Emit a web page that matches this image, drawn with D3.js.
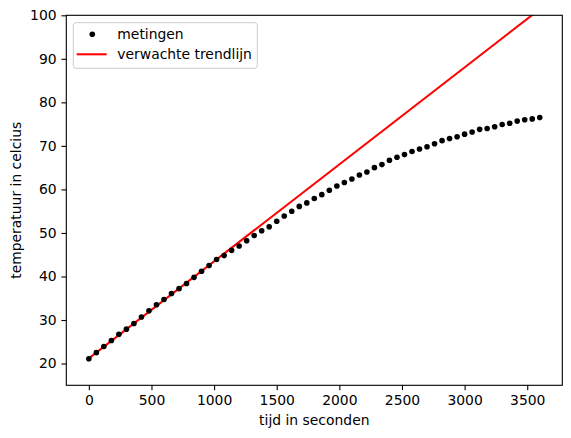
<!DOCTYPE html>
<html>
<head>
<meta charset="utf-8">
<script src="https://cdn.jsdelivr.net/npm/d3@7"></script>
<style>
    body { margin: 0; background: #fff; }
    svg { display: block; font-family: "DejaVu Sans", sans-serif; }
</style>
</head>
<body>
<div id="grafiek"></div>
<script>
// Meetgegevens (tijd in s, temperatuur in graden C)
var tijden = [0, 60, 120, 180, 240, 300, 360, 420, 480, 540,
    600, 660, 720, 780, 840, 900, 960, 1020, 1080, 1140,
    1200, 1260, 1320, 1380, 1440, 1500, 1560, 1620, 1680, 1740,
    1800, 1860, 1920, 1980, 2040, 2100, 2160, 2220, 2280, 2340,
    2400, 2460, 2520, 2580, 2640, 2700, 2760, 2820, 2880, 2940,
    3000, 3060, 3120, 3180, 3240, 3300, 3360, 3420, 3480, 3540, 3600];
var metingen = [21.1, 22.5, 23.9, 25.3, 26.7, 27.9, 29.2, 30.7, 32.1, 33.5,
    34.7, 36.1, 37.2, 38.4, 39.8, 41.2, 42.5, 43.9, 44.8, 46.0,
    47.0, 48.2, 49.4, 50.5, 51.4, 52.7, 53.9, 55.0, 56.1, 56.9,
    57.9, 58.8, 59.8, 60.8, 61.6, 62.4, 63.3, 64.0, 65.0, 65.7,
    66.7, 67.4, 68.0, 68.7, 69.3, 69.8, 70.5, 71.2, 71.7, 72.1,
    72.7, 73.2, 73.8, 74.0, 74.4, 74.9, 75.2, 75.7, 76.0, 76.2, 76.5];

// verwachte trendlijn (begin en eind)
var trendTijden = [0, 3600];
var trendWaarden = [21.2, 101.4];

var xTicks = [0, 500, 1000, 1500, 2000, 2500, 3000, 3500];
var yTicks = [20, 30, 40, 50, 60, 70, 80, 90, 100];

var legendaLabels = ["metingen", "verwachte trendlijn"];

// Dimension et marges
var W = 571, H = 438;
var margin = {top: 15.3, right: 8.7, bottom: 52.7, left: 66.3},
    width = W - margin.left - margin.right,
    height = H - margin.top - margin.bottom;

var fs = 13.9;   // 10pt bij 100 dpi

var svg = d3.select("#grafiek")
    .append("svg")
    .attr("width", W)
    .attr("height", H);

var g = svg.append("g")
    .attr("transform", "translate(" + margin.left + "," + margin.top + ")");

var x = d3.scaleLinear().domain([-180, 3780]).range([0, width]);
var y = d3.scaleLinear().domain([15, 100]).range([height, 0]);

// clip op het assenvlak
g.append("clipPath")
    .attr("id", "clip")
    .append("rect")
    .attr("width", width)
    .attr("height", height);

// Axe X
var xAxis = g.append("g")
    .attr("transform", "translate(0," + height + ")")
    .call(d3.axisBottom(x).tickValues(xTicks).tickFormat(d3.format("d"))
        .tickSizeInner(4.86).tickSizeOuter(0).tickPadding(4.86));

// Axe Y
var yAxis = g.append("g")
    .call(d3.axisLeft(y).tickValues(yTicks).tickFormat(d3.format("d"))
        .tickSizeInner(4.86).tickSizeOuter(0).tickPadding(4.86));

[xAxis, yAxis].forEach(function (a) {
    a.select(".domain").remove();
    a.selectAll("line").attr("stroke", "#000").attr("stroke-width", 1.1);
    a.selectAll("text")
        .attr("fill", "#000")
        .style("font-size", fs + "px")
        .style("font-family", "DejaVu Sans");
});

// trendlijn
var lijn = d3.line()
    .x(function (d, i) { return x(trendTijden[i]); })
    .y(function (d) { return y(d); });

g.append("path")
    .datum(trendWaarden)
    .attr("clip-path", "url(#clip)")
    .attr("d", lijn)
    .attr("fill", "none")
    .attr("stroke", "#ff0000")
    .attr("stroke-width", 2.08);

// meetpunten
g.append("g")
    .attr("clip-path", "url(#clip)")
    .selectAll("circle")
    .data(metingen)
    .enter()
    .append("circle")
    .attr("cx", function (d, i) { return x(tijden[i]); })
    .attr("cy", function (d) { return y(d); })
    .attr("r", 2.8)
    .attr("fill", "#000");

// kader
g.append("rect")
    .attr("width", width)
    .attr("height", height)
    .attr("fill", "none")
    .attr("stroke", "#000")
    .attr("stroke-width", 1.1);

// Titre de l'axe X
svg.append("text")
    .attr("x", margin.left + width / 2)
    .attr("y", 424.5)
    .attr("text-anchor", "middle")
    .style("font-size", fs + "px")
    .text("tijd in seconden");

// Titre de l'axe Y
svg.append("text")
    .attr("transform", "translate(21," + (margin.top + height / 2) + ") rotate(-90)")
    .attr("text-anchor", "middle")
    .style("font-size", fs + "px")
    .text("temperatuur in celcius");

// legenda
var leg = svg.append("g").attr("transform", "translate(73.3,22.7)");

leg.append("rect")
    .attr("width", 184)
    .attr("height", 45.6)
    .attr("rx", 2.8)
    .attr("fill", "#fff")
    .attr("fill-opacity", 0.8)
    .attr("stroke", "#cccccc")
    .attr("stroke-width", 1);

leg.append("circle")
    .attr("cx", 19)
    .attr("cy", 11.6)
    .attr("r", 2.8)
    .attr("fill", "#000");

leg.append("line")
    .attr("x1", 3.4).attr("x2", 33.4)
    .attr("y1", 31.6).attr("y2", 31.6)
    .attr("stroke", "#ff0000")
    .attr("stroke-width", 2.08);

leg.selectAll("text.leg")
    .data(legendaLabels)
    .enter()
    .append("text")
    .attr("class", "leg")
    .attr("x", 44)
    .attr("y", function (d, i) { return 16.4 + i * 20; })
    .style("font-size", fs + "px")
    .text(function (d) { return d; });
</script>
</body>
</html>
